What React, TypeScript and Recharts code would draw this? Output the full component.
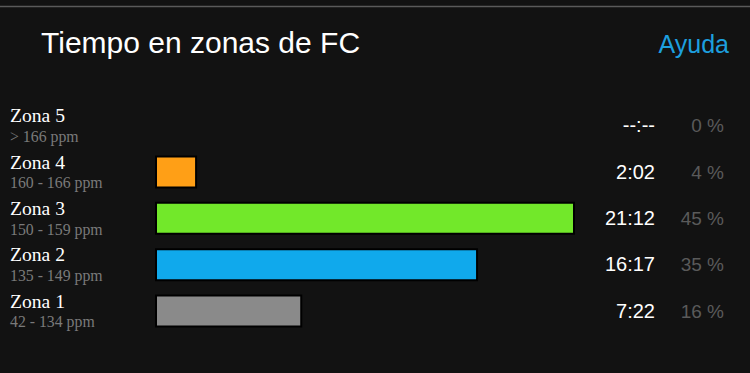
import React from "react";
import { BarChart, Bar, XAxis, YAxis, Cell, Customized } from "recharts";

const zones = ["Zona 5", "Zona 4", "Zona 3", "Zona 2", "Zona 1"];
const ranges = ["> 166 ppm", "160 - 166 ppm", "150 - 159 ppm", "135 - 149 ppm", "42 - 134 ppm"];
const seconds = [0, 122, 1272, 977, 442];
const times = ["--:--", "2:02", "21:12", "16:17", "7:22"];
const percents = ["0 %", "4 %", "45 %", "35 %", "16 %"];
const colors = ["#888888", "#ff9f16", "#72e82a", "#10a9ec", "#8a8a8a"];
const title = "Tiempo en zonas de FC";
const helpText = "Ayuda";

const data = zones.map((z, i) => ({
  zone: z,
  range: ranges[i],
  secs: seconds[i],
  time: times[i],
  pct: percents[i],
}));

const BG = "#121212";
const W = 750;
const H = 373;

const LeftTick = (props: any) => {
  const { x, y, payload } = props;
  const d = data.find((r) => r.zone === payload.value);
  return (
    <g>
      <text x={x - 146} y={y - 3} fill="#ffffff" fontFamily="'Liberation Serif', serif" fontSize={19.6}>
        {payload.value}
      </text>
      <text x={x - 146} y={y + 16.5} fill="#7a7a7a" fontFamily="'Liberation Serif', serif" fontSize={15.8}>
        {d ? d.range : ""}
      </text>
    </g>
  );
};

const RightTick = (props: any) => {
  const { x, y, payload } = props;
  const d = data.find((r) => r.zone === payload.value);
  return (
    <g>
      <text x={x + 81} y={y + 7} textAnchor="end" fill="#ffffff" fontFamily="'Liberation Sans', Arial, sans-serif" fontSize={20}>
        {d ? d.time : ""}
      </text>
      <text x={x + 150} y={y + 7} textAnchor="end" fill="#5a5a5a" fontFamily="'Liberation Sans', Arial, sans-serif" fontSize={19}>
        {d ? d.pct : ""}
      </text>
    </g>
  );
};

const Header = () => (
  <g>
    <line x1={0} y1={6.5} x2={W} y2={6.5} stroke="#5a5a5a" strokeWidth={1.5} />
    <text x={41} y={53} fill="#ffffff" fontFamily="'Liberation Sans', Arial, sans-serif" fontSize={30}>
      {title}
    </text>
    <text x={729} y={53} textAnchor="end" fill="#1d9fdf" fontFamily="'Liberation Sans', Arial, sans-serif" fontSize={25}>
      {helpText}
    </text>
  </g>
);

export default function App() {
  return (
    <div style={{ position: "absolute", left: 0, top: 0, width: W, height: H, background: BG }}>
      <BarChart
        width={W}
        height={H}
        data={data}
        layout="vertical"
        margin={{ top: 102, right: 0, bottom: 39, left: 0 }}
        barSize={31}
      >
        <XAxis type="number" domain={[0, 1272]} hide />
        <YAxis
          yAxisId="left"
          type="category"
          dataKey="zone"
          width={156}
          axisLine={false}
          tickLine={false}
          tickSize={0}
          tickMargin={0}
          tick={<LeftTick />}
          interval={0}
        />
        <YAxis
          yAxisId="right"
          orientation="right"
          type="category"
          dataKey="zone"
          width={176}
          axisLine={false}
          tickLine={false}
          tickSize={0}
          tickMargin={0}
          tick={<RightTick />}
          interval={0}
        />
        <Bar yAxisId="left" dataKey="secs" stroke="#000000" strokeWidth={2} isAnimationActive={false}>
          {data.map((d, i) => (
            <Cell key={d.zone} fill={colors[i]} />
          ))}
        </Bar>
        <Customized component={Header} />
      </BarChart>
    </div>
  );
}
